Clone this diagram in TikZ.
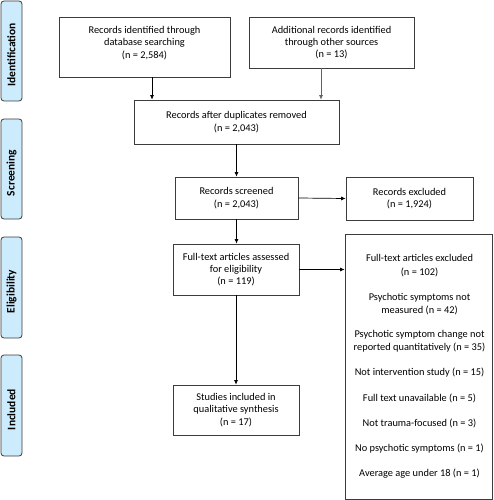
\documentclass[tikz,border=0pt]{standalone}
\usepackage{fontspec}
\setmainfont{Carlito}
\usetikzlibrary{arrows.meta,calc}
\definecolor{sidefill}{RGB}{204,235,252}
\definecolor{lineclr}{RGB}{60,60,60}
\newcommand{\sidetxt}[1]{\rotatebox{90}{#1\hspace*{8bp}}}
\begin{document}
\begin{tikzpicture}[x=1bp,y=-1bp,
  txt/.style={inner sep=0pt,align=center,font=\fontsize{10.4}{12.3}\selectfont},
  box/.style={txt,draw=lineclr,line width=0.7bp,fill=white},
  exline/.style={txt,anchor=base},
  side/.style={draw=lineclr,line width=0.8bp,fill=sidefill,rounded corners=3bp,
     minimum width=21bp,inner sep=0pt,font=\fontsize{11.5}{13}\selectfont\bfseries},
  arr/.style={draw=black,line width=0.7bp,-{Latex[length=4.5bp,width=4bp]}}]
\useasboundingbox (0,0) rectangle (494,500);
% side labels
\node[side,minimum height=100bp] (sid) at (11.5,51) {\sidetxt{Identification}};
\node[side,minimum height=100bp] (sscr) at (11.5,169) {\sidetxt{Screening}};
\node[side,minimum height=101bp] (selig) at (11.5,287.5) {\sidetxt{Eligibility}};
\node[side,minimum height=101bp] (sinc) at (11.5,405.5) {\sidetxt{Included}};
% boxes
\node[box,minimum width=171bp,minimum height=60bp] (b1) at (144.5,47) {};
\node[txt] (b1t) at (144.5,43)
  {Records identified through\\database searching\\(n = 2,584)};
\node[box,minimum width=165bp,minimum height=51bp] (b2) at (331.5,42.5)
  {Additional records identified\\through other sources\\(n = 13)};
\node[box,minimum width=205bp,minimum height=44bp] (b3) at (236.5,122)
  {Records after duplicates removed\\(n = 2,043)};
\node[box,minimum width=123bp,minimum height=42bp] (b4) at (236.5,198)
  {Records screened\\(n = 2,043)};
\node[box,minimum width=127bp,minimum height=43bp] (b5) at (409.5,198.5)
  {Records excluded\\(n = 1,924)};
\node[box,minimum width=126bp,minimum height=51bp] (b6) at (236,269.5)
  {Full-text articles assessed\\for eligibility\\(n = 119)};
\node[box,minimum width=147bp,minimum height=265bp] (b7) at (418.5,366.5) {};
\node[exline] (e1) at (419.5,261) {Full-text articles excluded};
\node[exline] (e2) at (419.5,275) {(n = 102)};
\node[exline] (e3) at (419.5,300) {Psychotic symptoms not};
\node[exline] (e4) at (419.5,313) {measured (n = 42)};
\node[exline] (e5) at (419.5,337) {Psychotic symptom change not};
\node[exline] (e6) at (419.5,350.5) {reported quantitatively (n = 35)};
\node[exline] (e7) at (419.5,375) {Not intervention study (n = 15)};
\node[exline] (e8) at (419.5,401) {Full text unavailable (n = 5)};
\node[exline] (e9) at (419.5,426) {Not trauma-focused (n = 3)};
\node[exline] (e10) at (419.5,451) {No psychotic symptoms (n = 1)};
\node[exline] (e11) at (419.5,476) {Average age under 18 (n = 1)};
\node[box,minimum width=126bp,minimum height=50bp] (b8) at (236,410)
  {Studies included in\\qualitative synthesis\\(n = 17)};
% connectors
\draw[arr] ([xshift=7.5bp]b1.south) -- ([xshift=7.5bp]b1.south |- b3.north);
\draw[arr,draw=lineclr!80] ([xshift=-10.5bp]b2.south) -- ([xshift=-10.5bp]b2.south |- b3.north);
\draw[arr] (b3.south) -- (b4.north);
\draw[arr] (b4.east) -- (b5.west);
\draw[arr] (b4.south) -- (b4.south |- b6.north);
\draw[arr] (b6.east) -- (b6.east -| b7.west);
\draw[arr] (b6.south) -- (b8.north);
\end{tikzpicture}
\end{document}
